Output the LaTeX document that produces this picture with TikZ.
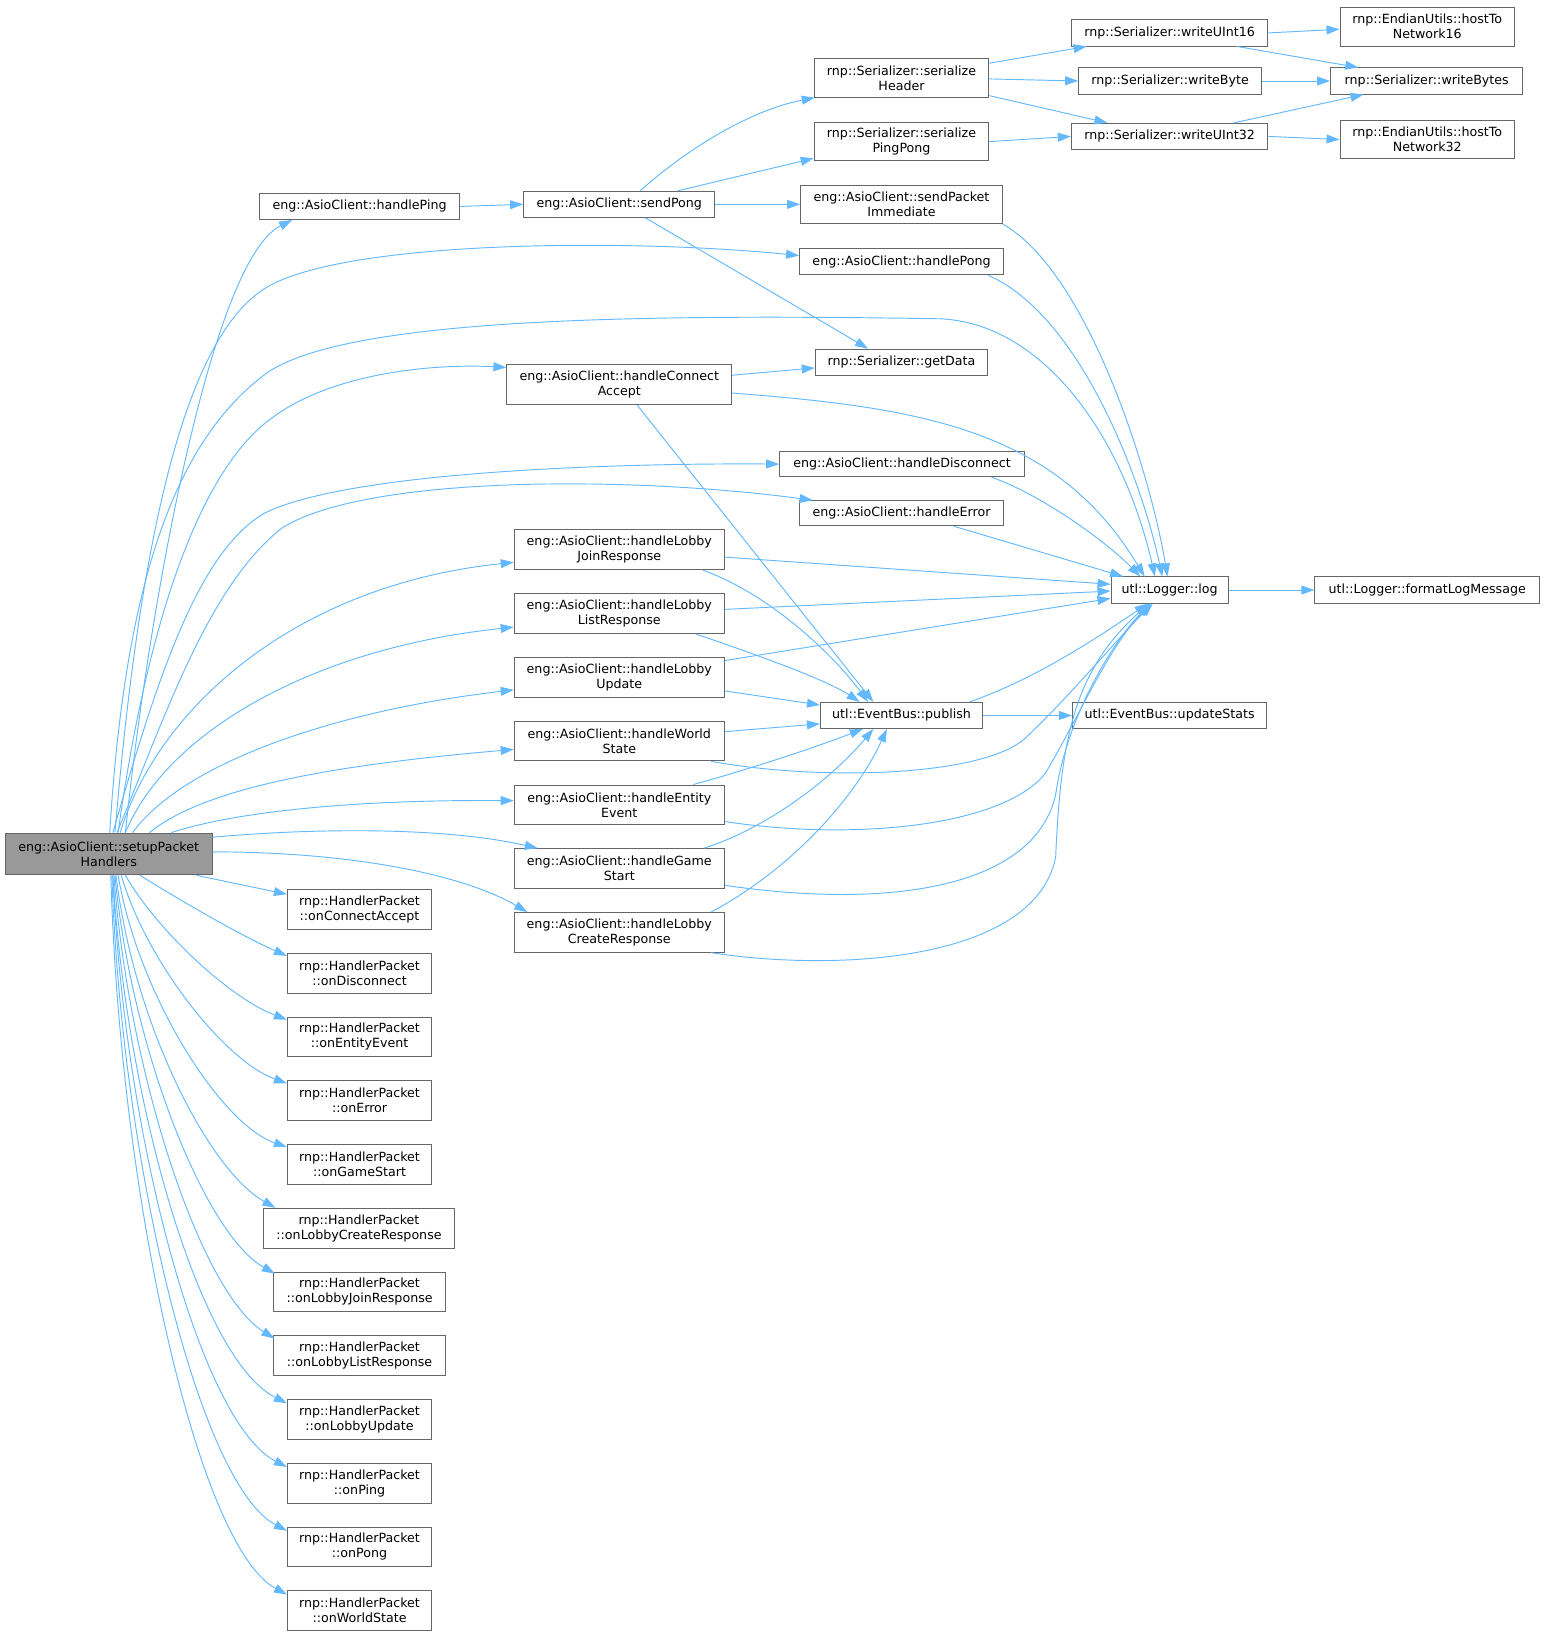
\documentclass[tikz,border=0pt]{standalone}
\usepackage{fontspec}
\setmainfont{DejaVu Sans}
\usetikzlibrary{arrows.meta}
\definecolor{edgeblue}{HTML}{63B8FF}
\definecolor{boxgray}{HTML}{666666}
\definecolor{setupgray}{HTML}{999999}
\begin{document}
\begin{tikzpicture}[x=1pt,y=-1pt,
  box/.style={draw=boxgray, line width=0.9pt, inner sep=0pt, minimum height=25pt, align=center,
    font=\fontsize{12.1}{14.4}\selectfont},
  box2/.style={box, minimum height=38pt},
  hp/.style={box2, minimum width=138pt},
  mid/.style={box2, minimum width=201pt},
  conn/.style={draw=edgeblue, line width=0.9pt, -{Triangle[length=12.5pt,width=8.5pt]}}]
\useasboundingbox (0,0) rectangle (1480,1570);

% nodes
\node[box2, minimum width=198pt, minimum height=40pt, fill=setupgray] (setup) at (104,817) {eng::AsioClient::setupPacket\\Handlers};
\node[box, minimum width=192pt] (handlePing) at (344,197.5) {eng::AsioClient::handlePing};
\node[box, minimum width=183pt] (sendPong) at (592.5,195.5) {eng::AsioClient::sendPong};
\node[box2, minimum width=167pt, minimum height=37pt] (serHeader) at (862.5,74.5) {rnp::Serializer::serialize\\Header};
\node[box2, minimum width=167pt, minimum height=37pt] (serPing) at (862.5,135.5) {rnp::Serializer::serialize\\PingPong};
\node[box2, minimum width=193pt, minimum height=37pt] (sendImm) at (862.5,195.5) {eng::AsioClient::sendPacket\\Immediate};
\node[box, minimum width=195pt] (handlePong) at (862.5,250.5) {eng::AsioClient::handlePong};
\node[box, minimum width=165pt] (getData) at (862.5,346.5) {rnp::Serializer::getData};
\node[box, minimum width=188pt] (wU16) at (1119,31.5) {rnp::Serializer::writeUInt16};
\node[box, minimum width=175pt] (wByte) at (1119.5,77.5) {rnp::Serializer::writeByte};
\node[box, minimum width=188pt] (wU32) at (1119,130.5) {rnp::Serializer::writeUInt32};
\node[box2, minimum width=167pt, minimum height=37pt] (h16) at (1365.5,25.5) {rnp::EndianUtils::hostTo\\Network16};
\node[box, minimum width=184pt] (wBytes) at (1365,77.5) {rnp::Serializer::writeBytes};
\node[box2, minimum width=167pt, minimum height=37pt] (h32) at (1365.5,133.5) {rnp::EndianUtils::hostTo\\Network32};
\node[box2, minimum width=215pt] (hConn) at (592.5,368) {eng::AsioClient::handleConnect\\Accept};
\node[box, minimum width=234pt, minimum height=24pt] (hDisc) at (863,444) {eng::AsioClient::handleDisconnect};
\node[box, minimum width=195pt, minimum height=24pt] (hErr) at (862.5,491) {eng::AsioClient::handleError};
\node[box, minimum width=112pt] (log) at (1119,564.5) {utl::Logger::log};
\node[box, minimum width=215pt] (fmt) at (1365.5,564.5) {utl::Logger::formatLogMessage};
\node[box, minimum width=155pt] (publish) at (862.5,684.5) {utl::EventBus::publish};
\node[box, minimum width=186pt] (stats) at (1119,684.5) {utl::EventBus::updateStats};
\node[mid] (hJoin) at (592.5,526) {eng::AsioClient::handleLobby\\JoinResponse};
\node[mid] (hList) at (592.5,587) {eng::AsioClient::handleLobby\\ListResponse};
\node[mid] (hUpd) at (592.5,648) {eng::AsioClient::handleLobby\\Update};
\node[mid] (hWorld) at (592.5,709) {eng::AsioClient::handleWorld\\State};
\node[mid] (hEnt) at (592.5,770) {eng::AsioClient::handleEntity\\Event};
\node[mid] (hGame) at (592.5,831) {eng::AsioClient::handleGame\\Start};
\node[mid] (hCreate) at (592.5,892) {eng::AsioClient::handleLobby\\CreateResponse};
\node[hp] (pConn) at (344,870) {rnp::HandlerPacket\\::onConnectAccept};
\node[hp] (pDisc) at (344,931) {rnp::HandlerPacket\\::onDisconnect};
\node[hp] (pEnt) at (344,992) {rnp::HandlerPacket\\::onEntityEvent};
\node[hp] (pErr) at (344,1053) {rnp::HandlerPacket\\::onError};
\node[hp] (pGame) at (344,1114) {rnp::HandlerPacket\\::onGameStart};
\node[hp, minimum width=183pt] (pCreate) at (343.5,1175) {rnp::HandlerPacket\\::onLobbyCreateResponse};
\node[hp, minimum width=165pt] (pJoin) at (344,1236) {rnp::HandlerPacket\\::onLobbyJoinResponse};
\node[hp, minimum width=164pt] (pList) at (344,1297) {rnp::HandlerPacket\\::onLobbyListResponse};
\node[hp] (pUpd) at (344,1358) {rnp::HandlerPacket\\::onLobbyUpdate};
\node[hp] (pPing) at (344,1419) {rnp::HandlerPacket\\::onPing};
\node[hp] (pPong) at (344,1480) {rnp::HandlerPacket\\::onPong};
\node[hp] (pWorld) at (344,1541) {rnp::HandlerPacket\\::onWorldState};

% edges from setup, upward
\draw[conn] ([xshift=16pt]setup.north) .. controls (140,600) and (200,250) .. ([xshift=32pt]handlePing.south west);
\draw[conn] ([xshift=6pt]setup.north) .. controls (135,500) and (180,320) .. (255,275) .. controls (330,230) and (600,228) .. ([yshift=6pt]handlePong.west);
\draw[conn] ([xshift=1pt]setup.north) .. controls (120,550) and (170,420) .. (255,357) .. controls (330,305) and (600,300) .. (900,305) .. controls (1000,310) and (1075,420) .. ([xshift=-14pt]log.north);
\draw[conn] ([xshift=9pt]setup.north) .. controls (140,600) and (190,450) .. (260,400) .. controls (320,355) and (420,348) .. ([yshift=-3pt]hConn.north west);
\draw[conn] ([xshift=4pt]setup.north) .. controls (150,650) and (190,525) .. (255,490) .. controls (340,450) and (600,443) .. (hDisc.west);
\draw[conn] ([xshift=8pt]setup.north) .. controls (160,680) and (200,560) .. (270,505) .. controls (350,455) and (600,455) .. ([xshift=13pt]hErr.north west);
\draw[conn] ([xshift=11pt]setup.north) .. controls (150,680) and (280,560) .. ([yshift=-12pt]hJoin.west);
\draw[conn] ([xshift=16pt]setup.north) .. controls (160,700) and (300,620) .. ([yshift=-13pt]hList.west);
\draw[conn] ([xshift=23pt]setup.north) .. controls (175,730) and (320,680) .. ([yshift=-12pt]hUpd.west);
\draw[conn] ([xshift=39pt]setup.north) .. controls (200,750) and (340,730) .. ([yshift=-8pt]hWorld.west);
\draw[conn] ([xshift=60pt]setup.north) .. controls (230,775) and (350,765) .. ([yshift=4pt]hEnt.west);
\draw[conn] ([yshift=16pt]setup.east) .. controls (290,793) and (420,790) .. ([xshift=23pt]hGame.north west);
\draw[conn] ([yshift=2pt]setup.east) .. controls (330,815) and (440,835) .. ([xshift=13pt]hCreate.north west);

% edges from setup, downward
\draw[conn] ([xshift=84pt]setup.south) -- ([yshift=-5pt]pConn.north west);
\draw[conn] ([xshift=30pt]setup.south) .. controls (170,860) and (230,895) .. ([yshift=-3pt]pDisc.north west);
\draw[conn] ([xshift=16pt]setup.south) .. controls (150,890) and (220,955) .. ([yshift=-3pt]pEnt.north west);
\draw[conn] ([xshift=12pt]setup.south) .. controls (140,920) and (215,1015) .. ([yshift=-3pt]pErr.north west);
\draw[conn] ([xshift=9pt]setup.south) .. controls (132,950) and (210,1075) .. ([yshift=-3pt]pGame.north west);
\draw[conn] ([xshift=7pt]setup.south) .. controls (128,980) and (200,1120) .. ([xshift=12pt]pCreate.north west);
\draw[conn] ([xshift=6pt]setup.south) .. controls (125,1000) and (195,1180) .. ([xshift=2pt,yshift=-2pt]pJoin.north west);
\draw[conn] ([xshift=5pt]setup.south) .. controls (122,1020) and (190,1235) .. ([xshift=1pt,yshift=-3pt]pList.north west);
\draw[conn] ([xshift=4pt]setup.south) .. controls (120,1050) and (190,1300) .. ([yshift=-4pt]pUpd.north west);
\draw[conn] ([xshift=4pt]setup.south) .. controls (118,1080) and (190,1360) .. ([yshift=-4pt]pPing.north west);
\draw[conn] ([xshift=3pt]setup.south) .. controls (116,1110) and (190,1420) .. ([yshift=-4pt]pPong.north west);
\draw[conn] ([xshift=2pt]setup.south) .. controls (115,1150) and (190,1480) .. ([yshift=-4pt]pWorld.north west);

% ping/pong chain
\draw[conn] (handlePing.east) -- (sendPong.west);
\draw[conn] ([xshift=20pt]sendPong.north) .. controls (660,140) and (720,105) .. ([xshift=1pt]serHeader.south west);
\draw[conn] ([xshift=56pt]sendPong.north) -- ([yshift=3pt]serPing.south west);
\draw[conn] (sendPong.east) -- (sendImm.west);
\draw[conn] ([xshift=25pt]sendPong.south) -- ([xshift=-32pt]getData.north);
\draw[conn] ([yshift=14pt]serHeader.east) -- ([xshift=15pt]wU16.south west);
\draw[conn] ([yshift=-1pt]serHeader.east) -- (wByte.west);
\draw[conn] ([yshift=-17pt]serHeader.east) -- ([xshift=35pt]wU32.north west);
\draw[conn] (serPing.east) -- (wU32.west);
\draw[conn] (wU16.east) -- ([yshift=-2.5pt]h16.west);
\draw[conn] ([xshift=-30pt]wU16.south east) -- ([xshift=27pt]wBytes.north west);
\draw[conn] (wByte.east) -- (wBytes.west);
\draw[conn] ([xshift=-33pt]wU32.north east) -- ([xshift=32pt]wBytes.south west);
\draw[conn] (wU32.east) -- (h32.west);

% into log
\draw[conn] (sendImm.south east) .. controls (1040,260) and (1100,450) .. ([xshift=-2pt]log.north);
\draw[conn] ([xshift=-15pt]handlePong.south east) .. controls (1030,300) and (1090,450) .. ([xshift=-7pt]log.north);
\draw[conn] ([yshift=9pt]hConn.east) -- ([yshift=-5.5pt]getData.west);
\draw[conn] ([yshift=-8pt]hConn.east) .. controls (880,390) and (1010,410) .. ([xshift=-24pt]log.north);
\draw[conn] ([xshift=17pt]hConn.south) -- ([xshift=-27pt]publish.north);
\draw[conn] ([xshift=-32pt]hDisc.south east) .. controls (1000,475) and (1060,520) .. ([xshift=-28pt]log.north);
\draw[conn] ([xshift=-48pt]hErr.south east) -- ([xshift=12pt]log.north west);
\draw[conn] ([yshift=-7pt]hJoin.east) -- ([yshift=5.5pt]log.west);
\draw[conn] ([xshift=-21pt]hJoin.south east) .. controls (740,570) and (800,630) .. ([xshift=-32pt]publish.north);
\draw[conn] ([yshift=4pt]hList.east) -- ([yshift=-1pt]log.west);
\draw[conn] ([xshift=-28pt]hList.south east) .. controls (720,625) and (790,650) .. ([xshift=-40pt]publish.north);
\draw[conn] ([yshift=16pt]hUpd.east) -- ([yshift=-8pt]log.west);
\draw[conn] ([yshift=-13pt]hUpd.east) -- ([yshift=-3pt]publish.north west);
\draw[conn] ([yshift=9pt]hWorld.east) -- ([yshift=-8pt]publish.west);
\draw[conn] ([xshift=-13pt]hWorld.south east) .. controls (790,748) and (940,742) .. (980,707) .. controls (1020,670) and (1070,610) .. ([xshift=-16pt]log.south);
\draw[conn] ([xshift=-30pt]hEnt.north east) .. controls (720,735) and (780,715) .. ([xshift=-37pt]publish.south);
\draw[conn] ([yshift=-16pt]hEnt.east) .. controls (820,805) and (960,790) .. (1000,740) .. controls (1030,690) and (1060,620) .. ([xshift=-18pt]log.south);
\draw[conn] ([xshift=-20pt]hGame.north east) .. controls (740,790) and (800,740) .. ([xshift=-27pt]publish.south);
\draw[conn] ([yshift=-16pt]hGame.east) .. controls (850,870) and (990,850) .. (1010,760) .. controls (1020,690) and (1060,620) .. ([xshift=-19pt]log.south);
\draw[conn] ([xshift=-13pt]hCreate.north east) .. controls (760,830) and (820,760) .. ([xshift=-14pt]publish.south);
\draw[conn] ([xshift=-13pt]hCreate.south east) .. controls (800,930) and (990,920) .. (1010,820) .. controls (1015,700) and (1030,640) .. ([xshift=-20pt]log.south);
\draw[conn] ([xshift=-13pt]publish.north east) .. controls (990,650) and (1050,610) .. ([xshift=-21pt]log.south);
\draw[conn] (publish.east) -- (stats.west);
\draw[conn] (log.east) -- (fmt.west);
\end{tikzpicture}
\end{document}
